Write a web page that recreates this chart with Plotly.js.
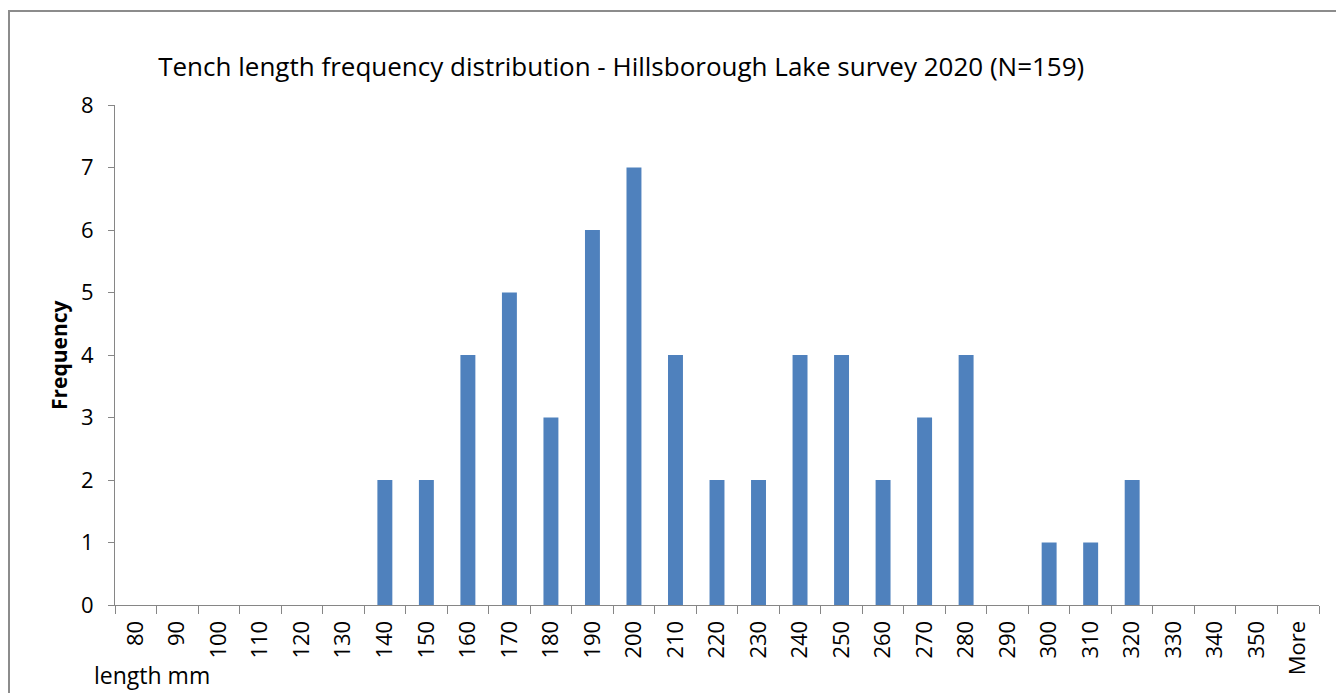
<!DOCTYPE html>
<html><head><meta charset="utf-8">
<script src="https://cdn.plot.ly/plotly-3.0.1.min.js"></script>
<style>
html,body{margin:0;padding:0;background:#fff;}
#wrap{position:relative;width:1336px;height:693px;}
#chart{width:1336px;height:693px;}
#frame{position:absolute;left:8px;top:10px;width:1340px;height:700px;border-top:2px solid #8c8c8c;border-left:2px solid #8c8c8c;pointer-events:none;}
</style></head>
<body><div id="wrap"><div id="chart"></div><div id="frame"></div></div>
<script>
const lengthBins = ["80","90","100","110","120","130","140","150","160","170","180","190","200","210","220","230","240","250","260","270","280","290","300","310","320","330","340","350","More"];
const frequency = [0,0,0,0,0,0,2,2,4,5,3,6,7,4,2,2,4,4,2,3,4,0,1,1,2,0,0,0,0];
const chartTitle = "Tench length frequency distribution - Hillsborough Lake survey 2020 (N=159)";
const yTitle = "Frequency";
const xTitle = "length mm";

const font = "Open Sans, sans-serif";
Plotly.newPlot('chart', [{
  type: 'bar', x: lengthBins, y: frequency,
  marker: {color: '#4f81bd'}, hoverinfo: 'x+y'
}], {
  width: 1336, height: 693,
  paper_bgcolor: '#fff', plot_bgcolor: '#fff',
  margin: {l: 115, r: 17, t: 105, b: 88},
  bargap: 0.64,
  showlegend: false,
  title: {text: chartTitle, x: 0.465, xanchor: 'center', y: 0.903, yanchor: 'middle',
          font: {family: font, size: 26, color: '#000'}},
  xaxis: {type: 'category', tickangle: -90, tickson: 'boundaries', ticks: 'outside', ticklen: 8,
          ticklabelstandoff: 6,
          tickcolor: '#868686', showline: true, linecolor: '#868686', linewidth: 1,
          showgrid: false, zeroline: false, tickfont: {family: font, size: 22, color: '#000'}},
  yaxis: {range: [0, 8], dtick: 1, ticks: 'outside', ticklen: 6, tickcolor: '#868686',
          ticklabelstandoff: 10,
          showline: true, linecolor: '#868686', linewidth: 1, showgrid: false, zeroline: false,
          tickfont: {family: font, size: 22, color: '#000'}},
  annotations: [
    {text: xTitle, xref: 'paper', yref: 'paper', x: (92-115)/1204, y: -(675-605)/500,
     xanchor: 'left', yanchor: 'middle', showarrow: false,
     font: {family: font, size: 23, color: '#000'}},
    {text: '<b>' + yTitle + '</b>', xref: 'paper', yref: 'paper', x: (59-115)/1204, y: (605-355)/500,
     xanchor: 'center', yanchor: 'middle', textangle: -90, showarrow: false,
     font: {family: font, size: 21, color: '#000'}}
  ]
}, {displayModeBar: false});
</script></body></html>
